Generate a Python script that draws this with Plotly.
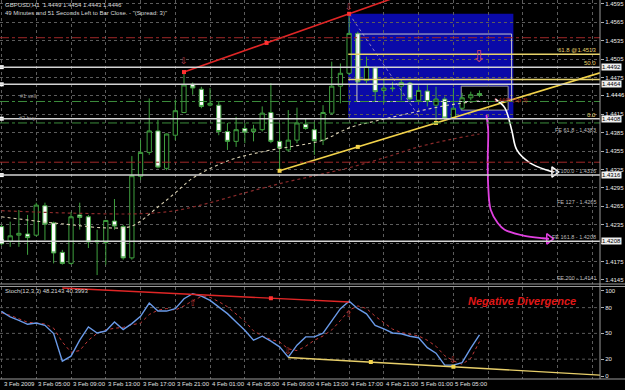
import plotly.graph_objects as go

# ---------------- data ----------------
hours = list(range(1, 57))  # H1 bars, hours since 3 Feb 2009 00:00
open_p = [1.4232,1.4208,1.4218,1.4220,1.4218,1.4266,1.4238,1.4190,1.4172,1.4251,
          1.4248,1.4207,1.4206,1.4241,1.4232,1.4181,1.4314,1.4353,1.4388,1.4327,
          1.4381,1.4418,1.4464,1.4456,1.4430,1.4430,1.4387,1.4371,1.4392,1.4387,
          1.4390,1.4418,1.4371,1.4357,1.4373,1.4399,1.4390,1.4373,1.4417,1.4461,
          1.4482,1.4547,1.4470,1.4491,1.4454,1.4458,1.4461,1.4466,1.4438,1.4453,
          1.4430,1.4440,1.4410,1.4425,1.4442,1.4449]
high_p = [1.4235,1.4240,1.4259,1.4251,1.4271,1.4271,1.4240,1.4194,1.4256,1.4271,
          1.4251,1.4227,1.4243,1.4277,1.4235,1.4347,1.4373,1.4441,1.4406,1.4384,
          1.4439,1.4484,1.4467,1.4460,1.4458,1.4436,1.4401,1.4411,1.4401,1.4398,
          1.4428,1.4466,1.4401,1.4422,1.4426,1.4409,1.4403,1.4430,1.4501,1.4498,
          1.4579,1.4550,1.4509,1.4493,1.4471,1.4468,1.4472,1.4468,1.4460,1.4463,
          1.4460,1.4444,1.4458,1.4450,1.4452,1.4454]
low_p = [1.4201,1.4199,1.4199,1.4186,1.4216,1.4210,1.4172,1.4170,1.4170,1.4227,
         1.4197,1.4153,1.4170,1.4227,1.4178,1.4178,1.4308,1.4349,1.4327,1.4324,
         1.4373,1.4417,1.4447,1.4425,1.4428,1.4381,1.4357,1.4362,1.4368,1.4371,
         1.4387,1.4368,1.4323,1.4354,1.4368,1.4390,1.4349,1.4365,1.4414,1.4433,
         1.4479,1.4466,1.4466,1.4436,1.4433,1.4452,1.4438,1.4438,1.4436,1.4428,
         1.4401,1.4406,1.4407,1.4422,1.4438,1.4443]
close_p = [1.4204,1.4217,1.4221,1.4214,1.4267,1.4236,1.4189,1.4172,1.4248,1.4247,
           1.4207,1.4209,1.4242,1.4233,1.4181,1.4315,1.4353,1.4388,1.4329,1.4383,
           1.4421,1.4463,1.4458,1.4428,1.4433,1.4387,1.4371,1.4390,1.4386,1.4391,
           1.4417,1.4371,1.4360,1.4373,1.4401,1.4392,1.4372,1.4418,1.4461,1.4482,
           1.4547,1.4468,1.4493,1.4452,1.4458,1.4457,1.4467,1.4440,1.4454,1.4436,
           1.4440,1.4409,1.4425,1.4442,1.4447,1.4446]

ma_fast_h = [1, 5, 9, 13, 16, 19, 21, 23, 27, 31, 35, 38, 41, 44, 48, 52, 56]
ma_fast = [1.4248, 1.4241, 1.4235, 1.4230, 1.4233, 1.4264, 1.4287, 1.4311, 1.4339,
           1.4354, 1.4364, 1.4373, 1.4393, 1.4404, 1.4417, 1.4429, 1.4437]
ma_slow_h = [1, 9, 17, 21, 25, 29, 33, 37, 41, 45, 49, 53, 56]
ma_slow = [1.4258, 1.4254, 1.4253, 1.4258, 1.4271, 1.4287, 1.4302, 1.4315, 1.4328,
           1.4344, 1.4362, 1.4375, 1.4383]

stoch_main = [75.7, 69.1, 65.2, 60.6, 62.1, 59.4, 49.8, 17.7, 23.5, 42.1,
              57.5, 50.5, 52.8, 63.3, 54.5, 61.4, 69.9, 85.3, 76.0, 76.0,
              78.8, 90.4, 96.2, 93.4, 88.4, 80.6, 73.0, 63.3, 53.7, 42.1,
              46.7, 40.9, 34.3, 22.4, 36.3, 45.9, 45.9, 50.2, 65.2, 78.8,
              87.6, 78.8, 72.8, 59.4, 55.2, 50.5, 49.6, 46.7, 45.0, 33.4,
              27.0, 13.1, 13.1, 16.0, 32.8, 48.2]
stoch_signal = [74, 71, 67, 63, 62, 61, 56, 40, 28, 30,
                42, 50, 54, 56, 57, 60, 62, 72, 77, 79,
                77, 82, 88, 93, 92, 87, 81, 72, 64, 53,
                47, 43, 40, 32, 30, 35, 42, 47, 54, 65,
                77, 82, 79, 70, 62, 55, 51, 49, 47, 42,
                35, 24, 18, 14, 21, 40.4]

time_tick_h = [1, 5, 9, 13, 17, 21, 25, 29, 33, 37, 41, 45, 49, 53]
time_tick_labels = ["3 Feb 2009", "3 Feb 05:00", "3 Feb 09:00", "3 Feb 13:00",
                    "3 Feb 17:00", "3 Feb 21:00", "4 Feb 01:00", "4 Feb 05:00",
                    "4 Feb 09:00", "4 Feb 13:00", "4 Feb 17:00", "4 Feb 21:00",
                    "5 Feb 01:00", "5 Feb 05:00"]
grid_h = [1, 5, 9, 13, 17, 21, 25, 29, 33, 37, 41, 45, 49, 53, 57, 61, 65, 69]
price_ticks = [1.4595, 1.4565, 1.4535, 1.4505, 1.4475, 1.4445, 1.4415, 1.4385,
               1.4355, 1.4325, 1.4295, 1.4265, 1.4235, 1.4205, 1.4175, 1.4145]
price_tick_text = ["1.4595", "1.4565", "1.4535", "1.4505", "1.4475", "", "1.4415", "1.4385",
                   "1.4355", "1.4325", "1.4295", "1.4265", "1.4235", "", "1.4175", "1.4145"]
stoch_ticks = [0, 20, 50, 80, 100]
stoch_levels = [20, 50, 80]

hline_prices = [1.4492, 1.4464, 1.4408, 1.4316, 1.4208]
hline_labels = ["1.4492", "1.4464", "1.4408", "1.4316", "1.4208"]
red_dash_prices = [1.4540, 1.4337]
green_dash_prices = [1.4436, 1.4401]
fib_prices = [1.4513, 1.4472]
fib_label_prices = [1.4513, 1.4492, 1.4408]
fib_labels = ["61.8 @1.4513", "50.0", "0.0"]
fe_prices = [1.4383, 1.4316, 1.4265, 1.4208, 1.4141]
fe_labels = ["FE 61.8 - 1.4383", "FE 100.0 - 1.4316", "FE 127 - 1.4265",
             "FE 161.8 - 1.4208", "FE 200 - 1.4141"]
last_price = 1.4446

# drawing objects (bar-hour, price)
red_tl = [(22, 1.4484), (41, 1.4579)]
yel_tl = [(33, 1.4323), (51, 1.4401)]
st_red_tl = [(23, 95.4), (41, 86.5)]
st_yel_tl = [(34, 22.0), (53, 11.1)]
white_curve_h = [57.8, 58.9, 59.7, 60.3, 61.8, 63.8, 64.6]
white_curve_p = [1.4440, 1.4426, 1.4390, 1.4357, 1.4336, 1.4324, 1.4321]
mag_curve_h = [56.8, 57.0, 56.95, 57.0, 57.3, 58.1, 58.9, 61.2, 63.3, 64.0]
mag_curve_p = [1.4414, 1.4390, 1.4341, 1.4300, 1.4259, 1.4238, 1.4227, 1.4217, 1.4213, 1.4212]

# ---------------- layout geometry ----------------
XMIN, XMAX = 0.827, 69.87
PMIN, PMAX = 1.41384, 1.46015
SMIN, SMAX = -3.1, 104.6
XDOM = [0, 0.96]
GREEN = "#3FA03F"
GRID = "#5c5c5c"
FONT = "Liberation Sans"

fig = go.Figure()

def ext(p, x_to):
    (x0, y0), (x1, y1) = p
    s = (y1 - y0) / (x1 - x0)
    return y0 + s * (x_to - x0)

# moving averages
fig.add_trace(go.Scatter(x=ma_slow_h, y=ma_slow, mode="lines", line=dict(color="#8a2a2a", width=1.2, dash="dot", shape="spline"), xaxis="x", yaxis="y", hoverinfo="skip"))
fig.add_trace(go.Scatter(x=ma_fast_h, y=ma_fast, mode="lines", line=dict(color="#d8cfb0", width=1.1, dash="dot", shape="spline"), xaxis="x", yaxis="y", hoverinfo="skip"))
# fib diagonal
fig.add_trace(go.Scatter(x=[41, 49.2], y=[1.4579, 1.4408], mode="lines", line=dict(color="#8c7cc0", width=1, dash="dot"), xaxis="x", yaxis="y", hoverinfo="skip"))

# candles
fig.add_trace(go.Candlestick(
    x=hours, open=open_p, high=high_p, low=low_p, close=close_p,
    increasing=dict(line=dict(color=GREEN, width=1), fillcolor="black"),
    decreasing=dict(line=dict(color=GREEN, width=1), fillcolor="white"),
    whiskerwidth=0, xaxis="x", yaxis="y", hoverinfo="skip"))

# trendlines
rx = [red_tl[0][0], red_tl[1][0], 48]
fig.add_trace(go.Scatter(x=rx, y=[red_tl[0][1], red_tl[1][1], ext(red_tl, 48)], mode="lines",
                         line=dict(color="#e02626", width=1.6), xaxis="x", yaxis="y", hoverinfo="skip"))
mid = (red_tl[0][0] + red_tl[1][0]) / 2
fig.add_trace(go.Scatter(x=[red_tl[0][0], mid, red_tl[1][0]], y=[red_tl[0][1], ext(red_tl, mid), red_tl[1][1]],
                         mode="markers", marker=dict(color="#ff3030", size=4, symbol="square"), xaxis="x", yaxis="y", hoverinfo="skip"))
fig.add_trace(go.Scatter(x=[yel_tl[0][0], XMAX], y=[yel_tl[0][1], ext(yel_tl, XMAX)], mode="lines",
                         line=dict(color="#f2d24a", width=1.6), xaxis="x", yaxis="y", hoverinfo="skip"))
mid = (yel_tl[0][0] + yel_tl[1][0]) / 2
fig.add_trace(go.Scatter(x=[yel_tl[0][0], mid, yel_tl[1][0]], y=[yel_tl[0][1], ext(yel_tl, mid), yel_tl[1][1]],
                         mode="markers", marker=dict(color="#f2d24a", size=4, symbol="square"), xaxis="x", yaxis="y", hoverinfo="skip"))

# curved arrows
fig.add_trace(go.Scatter(x=white_curve_h, y=white_curve_p, mode="lines", line=dict(color="white", width=1.6, shape="spline"), xaxis="x", yaxis="y", hoverinfo="skip"))
fig.add_trace(go.Scatter(x=[white_curve_h[-1]], y=[white_curve_p[-1]], mode="markers", marker=dict(symbol="triangle-right-open", size=9, color="white", line=dict(width=1.5)), xaxis="x", yaxis="y", hoverinfo="skip"))
fig.add_trace(go.Scatter(x=mag_curve_h, y=mag_curve_p, mode="lines", line=dict(color="#e040e0", width=1.8, shape="spline"), xaxis="x", yaxis="y", hoverinfo="skip"))
fig.add_trace(go.Scatter(x=[mag_curve_h[-1]], y=[mag_curve_p[-1]], mode="markers", marker=dict(symbol="triangle-right-open", size=9, color="#e040e0", line=dict(width=1.5)), xaxis="x", yaxis="y", hoverinfo="skip"))

# left markers of horizontal lines
fig.add_trace(go.Scatter(x=[XMIN + 0.2] * len(hline_prices), y=hline_prices, mode="markers",
                         marker=dict(symbol="square", size=4, color="white"), xaxis="x", yaxis="y", hoverinfo="skip", cliponaxis=False))

# stochastic
fig.add_trace(go.Scatter(x=hours, y=stoch_signal, mode="lines", line=dict(color="#c03838", width=1, dash="dot"), xaxis="x2", yaxis="y2", hoverinfo="skip"))
fig.add_trace(go.Scatter(x=hours, y=stoch_main, mode="lines", line=dict(color="#6a9ae8", width=1.4), xaxis="x2", yaxis="y2", hoverinfo="skip"))
fig.add_trace(go.Scatter(x=[8, st_red_tl[1][0]], y=[ext(st_red_tl, 8), st_red_tl[1][1]], mode="lines",
                         line=dict(color="#e02626", width=1.4), xaxis="x2", yaxis="y2", hoverinfo="skip"))
mid = (st_red_tl[0][0] + st_red_tl[1][0]) / 2
fig.add_trace(go.Scatter(x=[mid], y=[ext(st_red_tl, mid)], mode="markers", marker=dict(color="#ff3030", size=4, symbol="square"), xaxis="x2", yaxis="y2", hoverinfo="skip"))
fig.add_trace(go.Scatter(x=[st_yel_tl[0][0], XMAX], y=[st_yel_tl[0][1], ext(st_yel_tl, XMAX)], mode="lines",
                         line=dict(color="#e8cf6a", width=1.4), xaxis="x2", yaxis="y2", hoverinfo="skip"))
mid = (st_yel_tl[0][0] + st_yel_tl[1][0]) / 2
fig.add_trace(go.Scatter(x=[mid, st_yel_tl[1][0]], y=[ext(st_yel_tl, mid), st_yel_tl[1][1]], mode="markers", marker=dict(color="#f2d24a", size=4, symbol="square"), xaxis="x2", yaxis="y2", hoverinfo="skip"))

shapes = []
# blue box, white outline box, black box
shapes.append(dict(type="rect", xref="x", yref="y", x0=40.9, x1=59.9, y0=1.4408, y1=1.4579, fillcolor="#0a0aa8", line=dict(width=0), layer="below"))
shapes.append(dict(type="rect", xref="x", yref="y", x0=53.9, x1=59.3, y0=1.4422, y1=1.4461, fillcolor="black", line=dict(color="#9a9a9a", width=1), layer="below"))
shapes.append(dict(type="rect", xref="x", yref="y", x0=41.9, x1=59.7, y0=1.4436, y1=1.4546, fillcolor="rgba(0,0,0,0)", line=dict(color="#c8c8c8", width=1)))
for p in hline_prices:
    shapes.append(dict(type="line", xref="x domain", yref="y", x0=0, x1=1, y0=p, y1=p, line=dict(color="#d4d4d4", width=1.5)))
for p in fib_prices:
    shapes.append(dict(type="line", xref="x", yref="y", x0=40.9, x1=XMAX, y0=p, y1=p, line=dict(color="#e8d36a", width=1.5)))
for p in red_dash_prices:
    shapes.append(dict(type="line", xref="x domain", yref="y", x0=0, x1=1, y0=p, y1=p, line=dict(color="#a02828", width=1, dash="dashdot")))
for p in green_dash_prices:
    shapes.append(dict(type="line", xref="x domain", yref="y", x0=0, x1=1, y0=p, y1=p, line=dict(color="#3c8c3c", width=1, dash="dashdot")))
for v in stoch_levels:
    shapes.append(dict(type="line", xref="x2 domain", yref="y2", x0=0, x1=1, y0=v, y1=v, line=dict(color=GRID, width=1, dash="dot"), layer="below"))
# pane borders
y_main_bot = 1 - 284 / 390
y_st_top = 1 - 286.5 / 390
y_st_bot = 1 - 379 / 390
for yy in (y_main_bot, y_st_top, y_st_bot):
    shapes.append(dict(type="line", xref="paper", yref="paper", x0=0, x1=1, y0=yy, y1=yy, line=dict(color="#9a9a9a", width=1)))
shapes.append(dict(type="line", xref="paper", yref="paper", x0=XDOM[1], x1=XDOM[1], y0=y_st_bot, y1=1, line=dict(color="#9a9a9a", width=1)))

ann = []
small = dict(family=FONT, size=6, color="#d8d8d8")
ann.append(dict(x=0.004, y=1 - 5 / 390, xref="paper", yref="paper", text="GBPUSD,H1  1.4449 1.4454 1.4443 1.4446", showarrow=False, xanchor="left", yanchor="middle", font=small))
ann.append(dict(x=0.004, y=1 - 13 / 390, xref="paper", yref="paper", text='49 Minutes and 51 Seconds Left to Bar Close. - "(Spread: 3)"', showarrow=False, xanchor="left", yanchor="middle", font=small))
ann.append(dict(x=0.004, y=1 - 291 / 390, xref="paper", yref="paper", text="Stoch(12,3,3) 48.2143 40.3993", showarrow=False, xanchor="left", yanchor="middle", font=small))
for h, lab in zip(time_tick_h, time_tick_labels):
    ann.append(dict(x=h, xref="x2", y=1 - 383.5 / 390, yref="paper", text=lab, showarrow=False, xanchor="left", yanchor="middle", xshift=0, font=dict(family=FONT, size=6, color="#e0e0e0")))
for p, lab in zip(hline_prices, hline_labels):
    ann.append(dict(x=XDOM[1] + 0.002, xref="paper", y=p, yref="y", text=lab, showarrow=False, xanchor="left", yanchor="middle", bgcolor="#f0f0f0", borderpad=0, font=dict(family=FONT, size=6, color="black")))
ann.append(dict(x=XDOM[1] + 0.008, xref="paper", y=last_price, yref="y", text=f"{last_price:.4f}", showarrow=False, xanchor="left", yanchor="middle", bgcolor="black", borderpad=0, font=dict(family=FONT, size=6, color="white")))
for p, lab in zip(fib_label_prices, fib_labels):
    ann.append(dict(x=0.997, xref="x domain", y=p, yref="y", text=lab, showarrow=False, xanchor="right", yanchor="bottom", yshift=-1, font=dict(family=FONT, size=6, color="#e8d36a")))
for p, lab in zip(fe_prices, fe_labels):
    ann.append(dict(x=0.997, xref="x domain", y=p, yref="y", text=lab, showarrow=False, xanchor="right", yanchor="bottom", yshift=-1, font=dict(family=FONT, size=5.5, color="#bcbcbc")))
ann.append(dict(x=5.2, xref="x", y=green_dash_prices[0], yref="y", text="#1 sell", showarrow=False, xanchor="right", yanchor="bottom", font=dict(family=FONT, size=5.5, color="#a0a0a0")))
ann.append(dict(x=5.2, xref="x", y=green_dash_prices[1], yref="y", text="#2 buy", showarrow=False, xanchor="right", yanchor="bottom", font=dict(family=FONT, size=5.5, color="#a0a0a0")))
ann.append(dict(x=57.4, xref="x", y=last_price, yref="y", text="1.4446 (Sp 3)", showarrow=False, xanchor="left", yanchor="top", font=dict(family=FONT, size=5.5, color="#c03030")))
# fractal arrows
ann.append(dict(x=22, xref="x", y=1.4502, yref="y", text="⇩", showarrow=False, font=dict(family="DejaVu Sans", size=9, color="#c04050")))
ann.append(dict(x=41, xref="x", y=1.4590, yref="y", text="⇩", showarrow=False, font=dict(family="DejaVu Sans", size=9, color="#c04050")))
ann.append(dict(x=55.9, xref="x", y=1.4509, yref="y", text="⇩", showarrow=False, font=dict(family="DejaVu Sans", size=16, color="#d04868")))
ann.append(dict(x=23, xref="x2", y=85, yref="y2", text="⇧", showarrow=False, font=dict(family="DejaVu Sans", size=9, color="#a83030")))
ann.append(dict(x=41, xref="x2", y=73, yref="y2", text="⇧", showarrow=False, font=dict(family="DejaVu Sans", size=9, color="#a83030")))
ann.append(dict(x=34, xref="x2", y=29, yref="y2", text="⇩", showarrow=False, font=dict(family="DejaVu Sans", size=9, color="#a83030")))
ann.append(dict(x=53, xref="x2", y=19, yref="y2", text="⇩", showarrow=False, font=dict(family="DejaVu Sans", size=9, color="#a83030")))
ann.append(dict(x=60.9, xref="x2", y=88, yref="y2", text="<b><i>Negative Divergence</i></b>", showarrow=False, font=dict(family=FONT, size=11, color="#e01818")))

axis_common = dict(range=[XMIN, XMAX], domain=XDOM, tickvals=grid_h, showticklabels=False,
                   showgrid=True, gridcolor=GRID, griddash="dot", gridwidth=1, zeroline=False, showline=False, ticks="")
fig.update_layout(
    width=625, height=390, margin=dict(l=0, r=0, t=0, b=0),
    paper_bgcolor="black", plot_bgcolor="black", showlegend=False,
    xaxis=dict(anchor="y", rangeslider=dict(visible=False), **axis_common),
    xaxis2=dict(anchor="y2", matches="x", **axis_common),
    yaxis=dict(domain=[y_main_bot, 1], range=[PMIN, PMAX], side="right", anchor="x",
               tickvals=price_ticks, ticktext=price_tick_text, ticks="outside", ticklen=3, tickcolor="#b0b0b0",
               tickfont=dict(family=FONT, size=6, color="#e8e8e8"),
               showgrid=True, gridcolor=GRID, griddash="dot", zeroline=False, showline=False),
    yaxis2=dict(domain=[y_st_bot, y_st_top], range=[SMIN, SMAX], side="right", anchor="x2",
                tickvals=stoch_ticks, ticks="outside", ticklen=3, tickcolor="#b0b0b0",
                tickfont=dict(family=FONT, size=6, color="#e8e8e8"),
                showgrid=False, zeroline=False, showline=False),
    shapes=shapes, annotations=ann,
)
fig.write_html("out.html")
